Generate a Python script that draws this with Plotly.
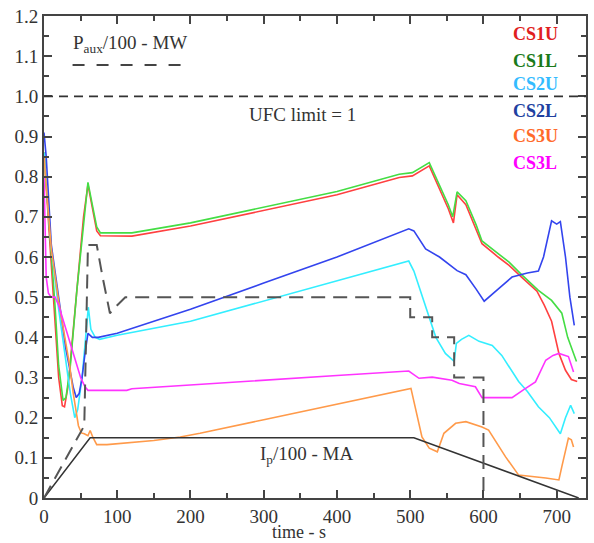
import plotly.graph_objects as go

# ---------------- data ----------------
t_cs1u = [0, 5, 10, 15, 20, 25, 28, 33, 40, 50, 54, 60, 66, 72, 77, 120, 200, 300, 400, 485, 503, 526, 540, 552, 559, 564, 576, 590, 598, 620, 635, 652, 673, 683, 693, 703, 712, 720, 728]
v_cs1u = [0.86, 0.72, 0.58, 0.44, 0.30, 0.23, 0.227, 0.28, 0.42, 0.62, 0.70, 0.78, 0.72, 0.665, 0.653, 0.652, 0.677, 0.716, 0.755, 0.798, 0.802, 0.827, 0.77, 0.72, 0.685, 0.755, 0.73, 0.67, 0.633, 0.60, 0.579, 0.55, 0.515, 0.48, 0.44, 0.36, 0.318, 0.295, 0.29]

t_cs1l = [0, 5, 10, 15, 20, 26, 30, 36, 45, 54, 60, 66, 72, 77, 120, 200, 300, 400, 485, 503, 526, 540, 552, 558, 564, 576, 590, 598, 620, 635, 652, 675, 693, 700, 707, 715, 727]
v_cs1l = [0.86, 0.73, 0.62, 0.48, 0.33, 0.243, 0.25, 0.33, 0.52, 0.68, 0.786, 0.73, 0.675, 0.66, 0.66, 0.685, 0.724, 0.763, 0.806, 0.81, 0.835, 0.78, 0.73, 0.70, 0.762, 0.74, 0.68, 0.64, 0.608, 0.587, 0.556, 0.517, 0.492, 0.475, 0.46, 0.40, 0.34]

t_cs2u = [0, 10, 20, 30, 36, 42, 46, 52, 57, 60.5, 64, 70, 76, 100, 200, 300, 400, 498, 505, 520, 535, 548, 560, 563, 570, 580, 594, 612, 625, 648, 660, 675, 690, 705, 712, 719, 724]
v_cs2u = [0.86, 0.62, 0.47, 0.33, 0.26, 0.20, 0.22, 0.30, 0.40, 0.475, 0.42, 0.40, 0.395, 0.405, 0.44, 0.49, 0.54, 0.59, 0.565, 0.48, 0.40, 0.36, 0.34, 0.385, 0.395, 0.405, 0.39, 0.38, 0.355, 0.29, 0.265, 0.227, 0.20, 0.16, 0.20, 0.231, 0.21]

t_cs2l = [0, 3, 10, 20, 30, 40, 44, 48, 52, 56, 60, 66, 74, 100, 200, 300, 400, 498, 505, 521, 540, 564, 576, 590, 601, 620, 639, 660, 675, 682, 693, 700, 705, 712, 718, 724]
v_cs2l = [0.91, 0.85, 0.63, 0.50, 0.37, 0.275, 0.25, 0.26, 0.30, 0.36, 0.41, 0.40, 0.40, 0.41, 0.47, 0.535, 0.60, 0.67, 0.665, 0.62, 0.60, 0.566, 0.556, 0.52, 0.49, 0.52, 0.55, 0.56, 0.565, 0.60, 0.69, 0.682, 0.688, 0.60, 0.50, 0.43]

t_cs3u = [0, 10, 20, 29, 35, 40, 47, 51, 55, 60, 63, 67, 72, 86, 120, 150, 186, 213, 300, 400, 498, 501, 516, 526, 537, 546, 562, 576, 598, 607, 630, 648, 685, 703, 707, 716, 720, 723]
v_cs3u = [0.85, 0.62, 0.49, 0.40, 0.33, 0.26, 0.18, 0.162, 0.16, 0.155, 0.168, 0.15, 0.133, 0.133, 0.138, 0.143, 0.152, 0.161, 0.195, 0.234, 0.273, 0.273, 0.152, 0.124, 0.115, 0.161, 0.186, 0.19, 0.177, 0.169, 0.103, 0.057, 0.05, 0.045, 0.078, 0.149, 0.145, 0.127]

t_cs3l = [0, 3, 6, 10, 15, 20, 30, 40, 50, 56, 60, 77, 113, 120, 258, 400, 498, 512, 530, 557, 567, 589, 598, 620, 639, 655, 671, 685, 695, 703, 716, 723]
v_cs3l = [0.80, 0.55, 0.51, 0.50, 0.50, 0.48, 0.42, 0.36, 0.30, 0.277, 0.268, 0.268, 0.268, 0.272, 0.289, 0.305, 0.316, 0.298, 0.301, 0.293, 0.285, 0.277, 0.25, 0.25, 0.25, 0.27, 0.289, 0.343, 0.355, 0.36, 0.352, 0.314]

t_ip = [0, 63, 505, 730]
v_ip = [0.0, 0.15, 0.15, 0.0]

t_paux = [0, 55, 60, 72, 80, 90, 100, 111, 500, 500, 530, 530, 560, 560, 600, 600]
v_paux = [0.0, 0.18, 0.63, 0.63, 0.55, 0.46, 0.48, 0.50, 0.50, 0.45, 0.45, 0.40, 0.40, 0.30, 0.30, 0.0]

series_names = ["CS1U", "CS1L", "CS2U", "CS2L", "CS3U", "CS3L"]
line_colors = ["#ff4040", "#44dd44", "#33eeff", "#3344ee", "#ff9a4a", "#ff33ff"]
label_colors = ["#e02020", "#1a7a1a", "#33bbff", "#2040a0", "#ff6a2a", "#ff00ff"]
label_y = [1.155, 1.088, 1.031, 0.963, 0.902, 0.833]

x_ticks = [0, 100, 200, 300, 400, 500, 600, 700]
y_ticks = [0, 0.1, 0.2, 0.3, 0.4, 0.5, 0.6, 0.7, 0.8, 0.9, 1.0, 1.1, 1.2]
y_ticktext = ["0", "0.1", "0.2", "0.3", "0.4", "0.5", "0.6", "0.7", "0.8", "0.9", "1.0", "1.1", "1.2"]

FONT = "Liberation Serif"

fig = go.Figure()

all_t = [t_cs1u, t_cs1l, t_cs2u, t_cs2l, t_cs3u, t_cs3l]
all_v = [v_cs1u, v_cs1l, v_cs2u, v_cs2l, v_cs3u, v_cs3l]
for name, tt, vv, c in zip(series_names, all_t, all_v, line_colors):
    fig.add_trace(go.Scatter(x=tt, y=vv, mode="lines", name=name,
                             line=dict(color=c, width=1.6)))

fig.add_trace(go.Scatter(x=t_ip, y=v_ip, mode="lines", name="Ip",
                         line=dict(color="#333333", width=1.5)))
fig.add_trace(go.Scatter(x=t_paux, y=v_paux, mode="lines", name="Paux",
                         line=dict(color="#555555", width=2, dash="14px,8px")))

# UFC limit line
fig.add_shape(type="line", xref="paper", x0=0, x1=1, yref="y", y0=1.0, y1=1.0,
              line=dict(color="#333333", width=1.6, dash="9px,6px"))
# Paux legend sample
fig.add_shape(type="line", xref="x", x0=39, x1=190, yref="y", y0=1.078, y1=1.078,
              line=dict(color="#444444", width=1.8, dash="12px,12px"))

ann = [
    dict(x=118, y=1.13, text="P<sub>aux</sub>/100 - MW"),
    dict(x=353, y=0.956, text="UFC limit = 1"),
    dict(x=359, y=0.107, text="I<sub>p</sub>/100 - MA"),
]
for a in ann:
    fig.add_annotation(x=a["x"], y=a["y"], text=a["text"], showarrow=False,
                       xref="x", yref="y", font=dict(family=FONT, size=19, color="#333333"))

for name, c, yy in zip(series_names, label_colors, label_y):
    fig.add_annotation(x=671, y=yy, text="<b>" + name + "</b>", showarrow=False,
                       xref="x", yref="y", font=dict(family=FONT, size=18, color=c))

fig.add_annotation(x=0.47, y=-0.071, xref="paper", yref="paper", text="time - s",
                   showarrow=False, yanchor="middle",
                   font=dict(family=FONT, size=18, color="#333333"))

axis_common = dict(showgrid=False, zeroline=False, showline=True, linecolor="#444444",
                   linewidth=2, mirror="allticks", ticks="inside", ticklen=8,
                   tickwidth=1.5, tickcolor="#444444",
                   tickfont=dict(family=FONT, size=19, color="#333333"))

fig.update_xaxes(range=[0, 740], tickvals=x_ticks,
                 minor=dict(ticks="inside", dtick=50, tick0=0, ticklen=5, tickcolor="#444444", tickwidth=1.5),
                 **axis_common)
fig.update_yaxes(range=[0, 1.2], tickvals=y_ticks, ticktext=y_ticktext,
                 minor=dict(ticks="inside", dtick=0.05, tick0=0, ticklen=5, tickcolor="#444444", tickwidth=1.5),
                 **axis_common)

fig.update_layout(width=594, height=543, showlegend=False,
                  margin=dict(l=44, r=6, t=15, b=45),
                  plot_bgcolor="white", paper_bgcolor="white")

fig.write_html("out.html")
